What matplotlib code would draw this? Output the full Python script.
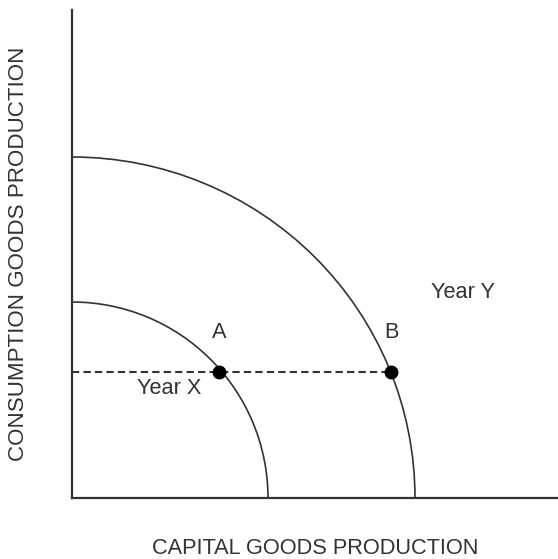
import numpy as np
import matplotlib.pyplot as plt
from matplotlib.patches import Arc

plt.rcParams['font.family'] = ['Liberation Sans', 'DejaVu Sans']

# frontier intercepts (capital, consumption), axis units
ppf_names = ['Year X', 'Year Y']
ppf_capital = [196, 343]
ppf_consumption = [196, 341]

# points on the dashed line
pt_labels = ['A', 'B']
pt_capital = [147, 319]
pt_consumption = [126, 126]

xmax, ymax = 486, 488

fig = plt.figure(figsize=(5.58, 5.59), dpi=100)
ax = fig.add_axes([72 / 558, 61 / 559, 486 / 558, 488 / 559])
ax.set_xlim(0, xmax)
ax.set_ylim(0, ymax)

ink = '#333333'
fs = 15.7
for w, h in zip(ppf_capital, ppf_consumption):
    ax.add_patch(Arc((0, 0), 2 * w, 2 * h, theta1=0, theta2=90,
                     color=ink, lw=1.2))

ax.plot([0, max(pt_capital)], [pt_consumption[0], pt_consumption[0]],
        ls=(0, (3.5, 2)), color=ink, lw=1.5)
ax.plot(pt_capital, pt_consumption, 'o', color='black', ms=9)

for lab, x, y in zip(pt_labels, pt_capital, pt_consumption):
    ax.text(x, y + 39, lab, ha='center', va='center', fontsize=fs, color=ink)

ax.text(97, 109, 'Year X', ha='center', va='center', fontsize=fs, color=ink)
ax.text(391, 206, 'Year Y', ha='center', va='center', fontsize=fs, color=ink)

for s in ['top', 'right']:
    ax.spines[s].set_visible(False)
for s in ['left', 'bottom']:
    ax.spines[s].set_linewidth(1.6)
    ax.spines[s].set_color(ink)
ax.set_xticks([])
ax.set_yticks([])

fig.text(315 / 558, 1 - 548 / 559, 'CAPITAL GOODS PRODUCTION', ha='center',
         va='center', fontsize=fs, color=ink)
fig.text(19 / 558, 1 - 254 / 559, 'CONSUMPTION GOODS PRODUCTION', ha='center',
         va='center', rotation=90, fontsize=fs + 0.4, color=ink)

fig.savefig('out.png', dpi=100)
